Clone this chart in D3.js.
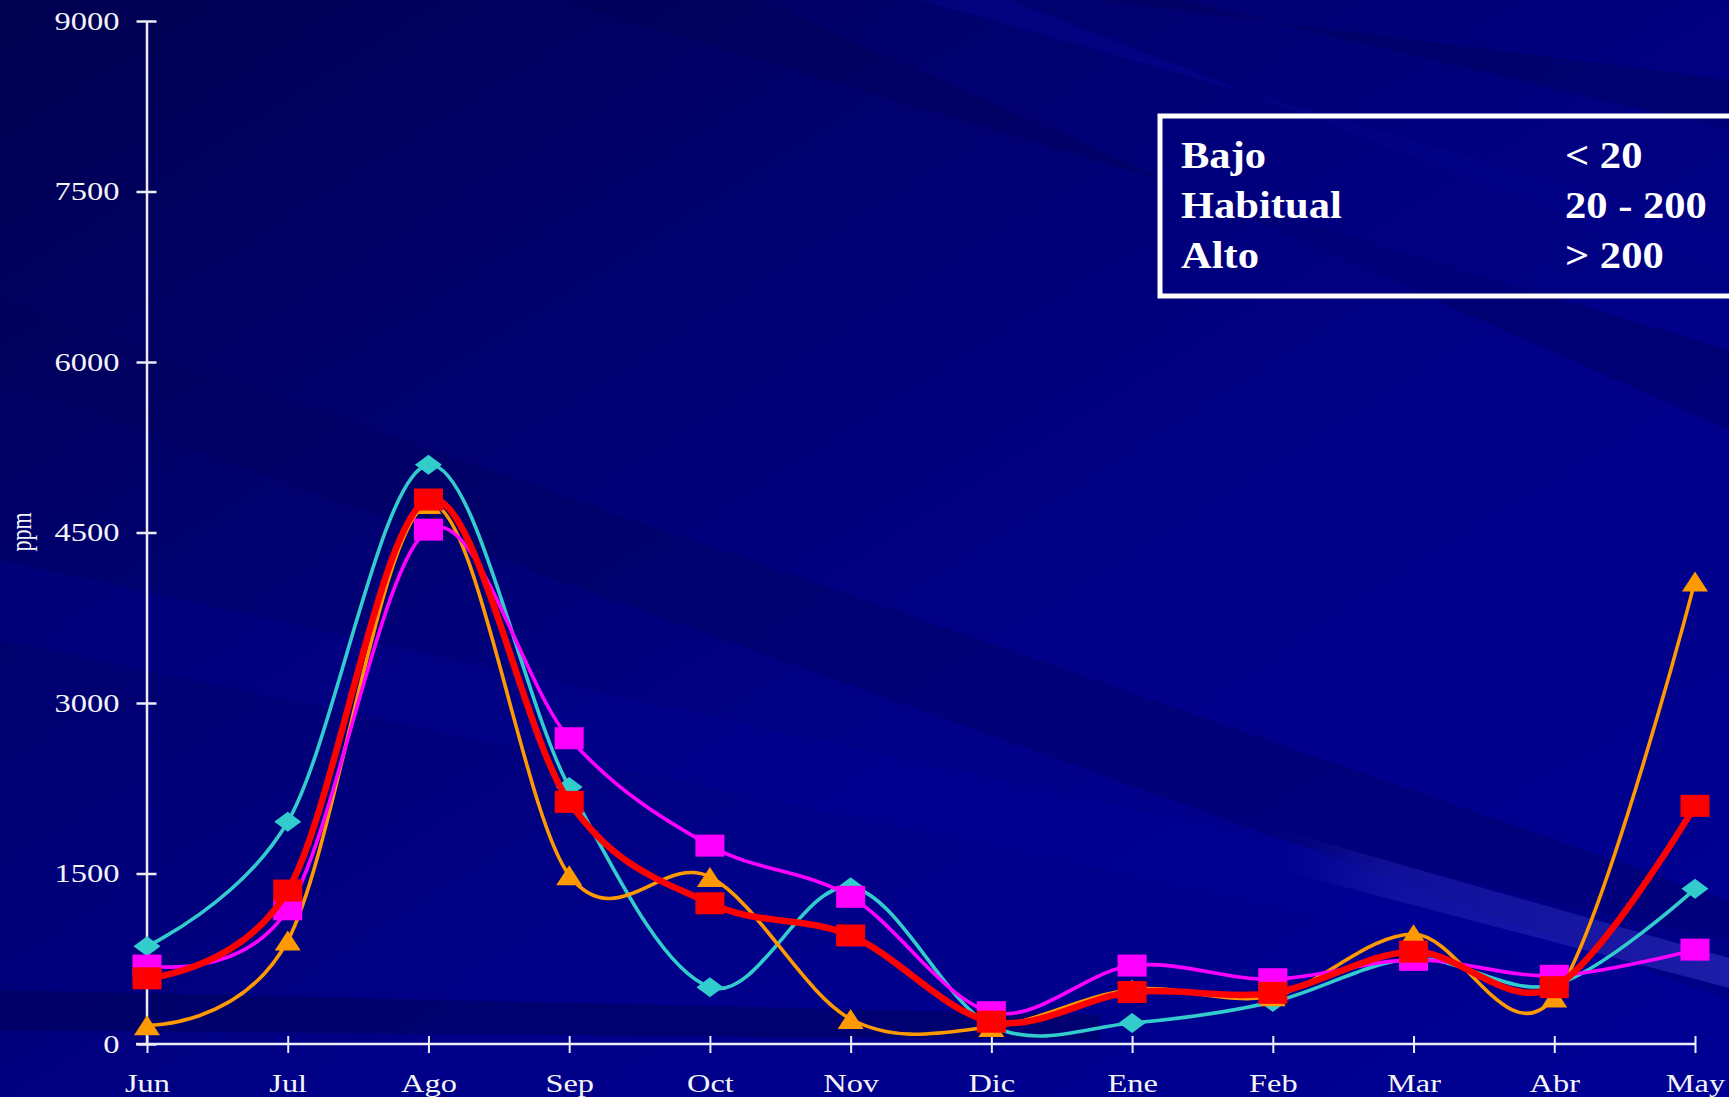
<!DOCTYPE html>
<html>
<head>
<meta charset="utf-8">
<script src="https://cdn.jsdelivr.net/npm/d3@7"></script>
<style>
  html, body { margin: 0; padding: 0; background: #000080; overflow: hidden; }
  svg { display: block; }
</style>
</head>
<body>
<svg id="chart" width="1729" height="1097"></svg>
<script>
// ---------------- DATA ----------------
const months = ["Jun", "Jul", "Ago", "Sep", "Oct", "Nov", "Dic", "Ene", "Feb", "Mar", "Abr", "May"];
const cyanValues    = [860, 1955, 5095, 2260, 500, 1380, 160, 185, 370, 750, 520, 1365];
const orangeValues  = [165, 910, 4750, 1485, 1470, 220, 150, 480, 420, 965, 410, 4070];
const magentaValues = [690, 1185, 4525, 2690, 1745, 1295, 280, 690, 570, 740, 600, 830];
const redValues     = [578, 1350, 4790, 2130, 1238, 955, 196, 457, 450, 812, 500, 2095];
const yTicks = [0, 1500, 3000, 4500, 6000, 7500, 9000];
const yLabel = "ppm";
const legendLabels = ["Bajo", "Habitual", "Alto"];
const legendRanges = ["< 20", "20 - 200", "> 200"];

// ---------------- SETUP ----------------
const W = 1729, H = 1097;
const svg = d3.select("#chart");
const defs = svg.append("defs");

// background gradient
const bg = defs.append("linearGradient").attr("id", "bgGrad")
  .attr("x1", "0").attr("y1", "0").attr("x2", "1").attr("y2", "1");
bg.append("stop").attr("offset", "0").attr("stop-color", "#000050");
bg.append("stop").attr("offset", "0.3").attr("stop-color", "#00006e");
bg.append("stop").attr("offset", "0.6").attr("stop-color", "#000088");
bg.append("stop").attr("offset", "1").attr("stop-color", "#000094");
svg.append("rect").attr("width", W).attr("height", H).attr("fill", "url(#bgGrad)");

// diagonal streaks (subtle decoration)
const streaks = [
  {p: [[0, 300], [0, 380], [1729, 1000], [1729, 900]], c: "#00005a", o: 0.35},
  {p: [[0, 560], [0, 640], [1729, 1000], [1729, 940]], c: "#0000a0", o: 0.25},
  {p: [[560, 0], [760, 0], [1729, 430], [1729, 350]], c: "#000050", o: 0.35},
  {p: [[920, 0], [1010, 0], [1729, 280], [1729, 230]], c: "#0a0aa8", o: 0.3},
  {p: [[1100, 0], [1180, 0], [1729, 130], [1729, 80]], c: "#000050", o: 0.35},
  {p: [[0, 990], [0, 1030], [1100, 1040], [1100, 1015]], c: "#000050", o: 0.45}
];
svg.append("g").selectAll("polygon").data(streaks).join("polygon")
  .attr("points", d => d.p.map(q => q.join(",")).join(" "))
  .attr("fill", d => d.c).attr("opacity", d => d.o);

const lightGrad = defs.append("linearGradient").attr("id", "lightGrad")
  .attr("x1", "0").attr("y1", "0").attr("x2", "1").attr("y2", "0");
lightGrad.append("stop").attr("offset", "0").attr("stop-color", "#2020b0").attr("stop-opacity", 0);
lightGrad.append("stop").attr("offset", "0.25").attr("stop-color", "#2020b0").attr("stop-opacity", 0.5);
lightGrad.append("stop").attr("offset", "1").attr("stop-color", "#3030c0").attr("stop-opacity", 0.6);
svg.append("polygon")
  .attr("points", "1280,830 1729,958 1729,988 1280,870")
  .attr("fill", "url(#lightGrad)");

// ---------------- SCALES ----------------
const x = d3.scalePoint().domain(months).range([147, 1695]);
const y = d3.scaleLinear().domain([0, 9000]).range([1044, 21]);

const axisColor = "#ececf4";
const serif = "'Liberation Serif', 'Times New Roman', serif";

// ---------------- AXES ----------------
const yAxis = svg.append("g").attr("transform", "translate(146.5,0)")
  .call(d3.axisLeft(y).tickValues(yTicks).tickSizeInner(10).tickSizeOuter(0).tickPadding(17).tickFormat(d3.format("d")));
yAxis.select(".domain").attr("stroke", axisColor).attr("stroke-width", 2.5);
yAxis.selectAll(".tick line").attr("x1", 10).attr("stroke", axisColor).attr("stroke-width", 2.5);
yAxis.selectAll(".tick text")
  .attr("fill", "#f4f4f8").attr("font-family", serif).attr("font-size", 25)
  .attr("dy", "0.33em")
  .attr("transform", function () { const tx = d3.select(this).attr("x"); return `translate(${tx},0) scale(1.3,1)`; })
  .attr("x", 0);

const xAxis = svg.append("g").attr("transform", "translate(0,1044)")
  .call(d3.axisBottom(x).tickSizeInner(8).tickSizeOuter(0));
xAxis.select(".domain").remove();
xAxis.append("line").attr("x1", 136).attr("x2", x("May")).attr("y1", 0).attr("y2", 0)
  .attr("stroke", axisColor).attr("stroke-width", 2.5);
xAxis.selectAll(".tick line").attr("y1", -8).attr("y2", 9).attr("stroke", axisColor).attr("stroke-width", 2);
xAxis.selectAll(".tick text")
  .attr("fill", "#f4f4f8").attr("font-family", serif).attr("font-size", 25.5)
  .attr("y", 0).attr("dy", 0)
  .attr("transform", "translate(0,48) scale(1.27,1)");

// y label
svg.append("text")
  .attr("transform", "translate(31,532) rotate(-90) scale(1,1.3)")
  .attr("text-anchor", "middle")
  .attr("fill", "#f4f4f8").attr("font-family", serif).attr("font-size", 22)
  .text(yLabel);

// ---------------- SERIES ----------------
const series = [
  {name: "cyan", values: cyanValues, color: "#33cccc", width: 3.6, marker: "diamond"},
  {name: "orange", values: orangeValues, color: "#ff9900", width: 3.6, marker: "triangle"},
  {name: "magenta", values: magentaValues, color: "#ff00ff", width: 3.6, marker: "square"},
  {name: "red", values: redValues, color: "#ff0000", width: 6.5, marker: "square"}
];

const line = d3.line()
  .x((d, i) => x(months[i]))
  .y(d => y(d))
  .curve(d3.curveCardinal.tension(0));

function markerPath(type) {
  if (type === "diamond") return "M0,-10 L13.5,0 L0,10 L-13.5,0 Z";
  if (type === "triangle") return "M0,-10 L13,10 L-13,10 Z";
  return "M-14.5,-11 L14.5,-11 L14.5,11 L-14.5,11 Z";
}

series.forEach(s => {
  const g = svg.append("g").attr("class", "series-" + s.name);
  g.append("path")
    .attr("d", line(s.values))
    .attr("fill", "none").attr("stroke", s.color)
    .attr("stroke-width", s.width).attr("stroke-linejoin", "round");
  g.selectAll("path.marker").data(s.values).join("path")
    .attr("class", "marker")
    .attr("d", markerPath(s.marker))
    .attr("transform", (d, i) => `translate(${x(months[i])},${y(d)})`)
    .attr("fill", s.color);
});

// ---------------- LEGEND BOX ----------------
const box = svg.append("g");
box.append("rect").attr("x", 1160).attr("y", 116).attr("width", 600).attr("height", 180)
  .attr("fill", "#000080").attr("fill-opacity", 0.55)
  .attr("stroke", "#ffffff").attr("stroke-width", 5);
const baselines = [168, 218, 268];
legendLabels.forEach((t, i) => {
  box.append("text").attr("transform", `translate(1181,${baselines[i]}) scale(1.15,1)`)
    .attr("fill", "#ffffff").attr("font-family", serif).attr("font-weight", "bold").attr("font-size", 37)
    .text(t);
});
legendRanges.forEach((t, i) => {
  box.append("text").attr("transform", `translate(1565,${baselines[i]}) scale(1.15,1)`)
    .attr("fill", "#ffffff").attr("font-family", serif).attr("font-weight", "bold").attr("font-size", 37)
    .text(t);
});
</script>
</body>
</html>
